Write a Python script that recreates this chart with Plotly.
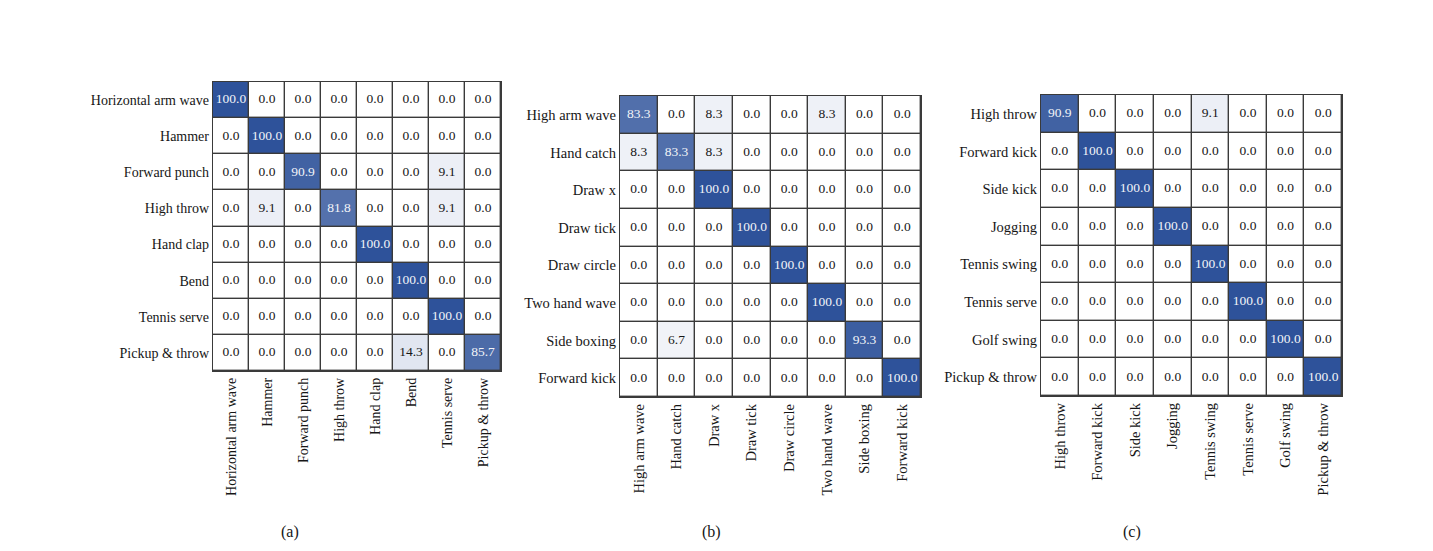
import plotly.graph_objects as go

# Page body has an 8px margin; figure coordinates are reference pixels minus OFF
OFF = 8
W, H = 1433 - 2 * OFF, 551 - 2 * OFF

a_labels = ["Horizontal arm wave", "Hammer", "Forward punch", "High throw",
            "Hand clap", "Bend", "Tennis serve", "Pickup & throw"]
a_vals = [
    [100.0, 0.0, 0.0, 0.0, 0.0, 0.0, 0.0, 0.0],
    [0.0, 100.0, 0.0, 0.0, 0.0, 0.0, 0.0, 0.0],
    [0.0, 0.0, 90.9, 0.0, 0.0, 0.0, 9.1, 0.0],
    [0.0, 9.1, 0.0, 81.8, 0.0, 0.0, 9.1, 0.0],
    [0.0, 0.0, 0.0, 0.0, 100.0, 0.0, 0.0, 0.0],
    [0.0, 0.0, 0.0, 0.0, 0.0, 100.0, 0.0, 0.0],
    [0.0, 0.0, 0.0, 0.0, 0.0, 0.0, 100.0, 0.0],
    [0.0, 0.0, 0.0, 0.0, 0.0, 14.3, 0.0, 85.7],
]

b_labels = ["High arm wave", "Hand catch", "Draw x", "Draw tick",
            "Draw circle", "Two hand wave", "Side boxing", "Forward kick"]
b_vals = [
    [83.3, 0.0, 8.3, 0.0, 0.0, 8.3, 0.0, 0.0],
    [8.3, 83.3, 8.3, 0.0, 0.0, 0.0, 0.0, 0.0],
    [0.0, 0.0, 100.0, 0.0, 0.0, 0.0, 0.0, 0.0],
    [0.0, 0.0, 0.0, 100.0, 0.0, 0.0, 0.0, 0.0],
    [0.0, 0.0, 0.0, 0.0, 100.0, 0.0, 0.0, 0.0],
    [0.0, 0.0, 0.0, 0.0, 0.0, 100.0, 0.0, 0.0],
    [0.0, 6.7, 0.0, 0.0, 0.0, 0.0, 93.3, 0.0],
    [0.0, 0.0, 0.0, 0.0, 0.0, 0.0, 0.0, 100.0],
]

c_labels = ["High throw", "Forward kick", "Side kick", "Jogging",
            "Tennis swing", "Tennis serve", "Golf swing", "Pickup & throw"]
c_vals = [
    [90.9, 0.0, 0.0, 0.0, 9.1, 0.0, 0.0, 0.0],
    [0.0, 100.0, 0.0, 0.0, 0.0, 0.0, 0.0, 0.0],
    [0.0, 0.0, 100.0, 0.0, 0.0, 0.0, 0.0, 0.0],
    [0.0, 0.0, 0.0, 100.0, 0.0, 0.0, 0.0, 0.0],
    [0.0, 0.0, 0.0, 0.0, 100.0, 0.0, 0.0, 0.0],
    [0.0, 0.0, 0.0, 0.0, 0.0, 100.0, 0.0, 0.0],
    [0.0, 0.0, 0.0, 0.0, 0.0, 0.0, 100.0, 0.0],
    [0.0, 0.0, 0.0, 0.0, 0.0, 0.0, 0.0, 100.0],
]

captions = ["(a)", "(b)", "(c)"]

# reference pixel boxes: (left, right, top, bottom), label font size, caption x
panels = [
    (a_labels, a_vals, (213, 501, 82, 371), 14, 290),
    (b_labels, b_vals, (620, 921, 96, 397), 14.5, 711),
    (c_labels, c_vals, (1041, 1342, 95, 396), 14.5, 1132),
]

FONT = "Liberation Serif"
fig = go.Figure()


def px(x):
    return (x - OFF) / W


def py(y):
    return 1 - (y - OFF) / H


for i, (labels, vals, (l, r, t, b), fs, cx) in enumerate(panels):
    sfx = "" if i == 0 else str(i + 1)
    n = len(labels)
    idx = list(range(n))
    fig.add_trace(go.Heatmap(
        z=vals, x=idx, y=idx,
        colorscale=[[0, "#ffffff"], [1, "#2E529A"]],
        zmin=0, zmax=100, showscale=False, xgap=1.4, ygap=1.4,
        hoverinfo="skip", xaxis="x" + sfx, yaxis="y" + sfx,
    ))
    xs, ys, txt, cols = [], [], [], []
    for ri in range(n):
        for ci in range(n):
            v = vals[ri][ci]
            xs.append(ci)
            ys.append(ri)
            txt.append(f"{v:.1f}")
            cols.append("#f2f4f8" if v > 50 else "#161616")
    fig.add_trace(go.Scatter(
        x=xs, y=ys, mode="text", text=txt,
        textfont=dict(family=FONT, size=13.5, color=cols),
        hoverinfo="skip", showlegend=False,
        xaxis="x" + sfx, yaxis="y" + sfx,
    ))
    axcommon = dict(showgrid=False, zeroline=False, showline=True, mirror=True,
                    linecolor="#3a3a3a", linewidth=1.4, ticks="",
                    tickfont=dict(family=FONT, size=fs, color="#161616"))
    fig.update_layout(**{
        "xaxis" + sfx: dict(domain=[px(l), px(r)], range=[-0.5, n - 0.5],
                            tickvals=idx, ticktext=labels, tickangle=-90,
                            anchor="y" + sfx, **axcommon),
        "yaxis" + sfx: dict(domain=[py(b), py(t)], range=[n - 0.5, -0.5],
                            tickvals=idx, ticktext=labels,
                            anchor="x" + sfx, **axcommon),
    })
    fig.add_annotation(text=captions[i], x=px(cx), y=py(532),
                       xref="paper", yref="paper", showarrow=False,
                       xanchor="center", yanchor="middle",
                       font=dict(family=FONT, size=16, color="#161616"))

fig.update_layout(
    width=W, height=H, margin=dict(l=0, r=0, t=0, b=0),
    paper_bgcolor="white", plot_bgcolor="#3a3a3a", showlegend=False,
)

fig.write_html("out.html")
